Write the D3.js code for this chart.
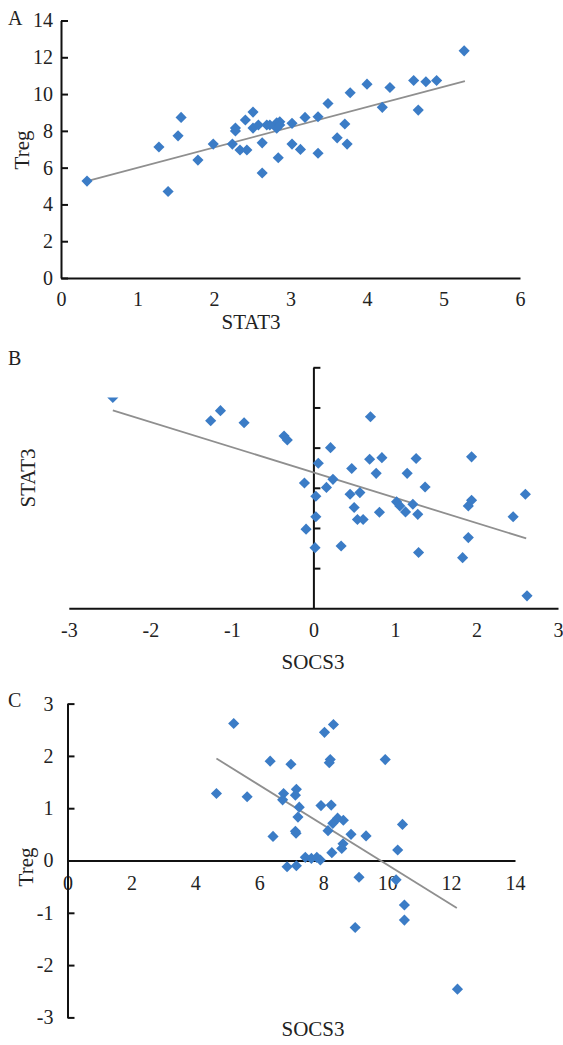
<!DOCTYPE html>
<html>
<head>
<meta charset="utf-8">
<script src="https://cdn.jsdelivr.net/npm/d3@7"></script>
<style>
  body { margin: 0; background: #fff; }
  text { font-family: "Liberation Serif", "Times New Roman", Times, serif; fill: #222; }
  .axis path, .axis line { stroke: #111; stroke-width: 2; }
  .axis text { font-size: 20px; font-family: "Liberation Serif", "Times New Roman", Times, serif; fill: #222; }
</style>
</head>
<body>
<div id="chart"></div>
<script>
// panel A: STAT3 vs Treg
var aSTAT3 = [0.34, 1.40, 1.28, 1.53, 1.57, 1.79, 1.99, 2.24, 2.28, 2.28, 2.41, 2.34, 2.43, 2.51, 2.63,
  2.51, 2.58, 2.69, 2.63, 2.82, 2.84, 2.86, 2.86, 3.02, 3.02, 3.13, 3.19, 3.36, 3.36, 3.49, 3.61, 3.71,
  3.74, 3.78, 4.00, 4.20, 4.30, 4.61, 4.67, 4.77, 4.91, 5.27, 2.82, 2.73];
var aTreg = [5.27, 4.70, 7.12, 7.73, 8.73, 6.41, 7.28, 7.28, 8.15, 7.99, 8.59, 6.96, 6.96, 9.02, 7.35,
  8.15, 8.32, 8.32, 5.71, 8.44, 6.54, 8.49, 8.32, 8.41, 7.28, 6.99, 8.73, 8.77, 6.78, 9.49, 7.62, 8.37,
  7.28, 10.07, 10.54, 9.28, 10.36, 10.74, 9.13, 10.67, 10.74, 12.35, 8.14, 8.32];
var aTrendX = [0.34, 5.28];
var aTrendY = [5.27, 10.71];
var aXTicks = [0, 1, 2, 3, 4, 5, 6];
var aYTicks = [0, 2, 4, 6, 8, 10, 12, 14];

// panel B: SOCS3 vs STAT3
var bSOCS3 = [-2.46, -1.26, -1.14, -0.85, -0.36, -0.32, 0.70, 0.21, 0.06, -0.11, 0.03, 0.16, 0.24, 0.03,
  -0.09, 0.02, 0.34, 0.47, 0.69, 0.84, 0.77, 0.45, 0.57, 0.50, 0.54, 0.61, 0.81, 1.15, 1.26, 1.37, 1.02,
  1.06, 1.13, 1.22, 1.28, 1.29, 1.94, 1.94, 1.90, 1.90, 1.83, 2.45, 2.60, 2.62];
var bSTAT3 = [5.25, 4.67, 4.92, 4.62, 4.29, 4.19, 4.77, 4.00, 3.61, 3.12, 2.79, 3.01, 3.21, 2.28, 1.97,
  1.51, 1.55, 3.48, 3.71, 3.75, 3.36, 2.84, 2.88, 2.51, 2.21, 2.21, 2.39, 3.36, 3.73, 3.02, 2.65, 2.55,
  2.40, 2.59, 2.34, 1.39, 3.77, 2.69, 2.55, 1.76, 1.26, 2.28, 2.84, 0.31];
var bTrendX = [-2.46, 2.61];
var bTrendY = [4.93, 1.74];
var bXTicks = [-3, -2, -1, 0, 1, 2, 3];
var bYTicks = [1, 2, 3, 4, 5, 6];

// panel C: SOCS3 vs Treg
var cSOCS3 = [5.20, 8.04, 8.32, 6.34, 6.99, 8.22, 8.19, 9.94, 4.66, 5.62, 6.76, 6.73, 7.16, 7.13, 7.25,
  7.21, 7.13, 7.15, 7.93, 8.25, 8.15, 8.30, 8.45, 8.63, 8.87, 9.34, 8.62, 8.58, 8.27, 6.43, 10.48, 10.33,
  7.44, 7.63, 7.80, 7.91, 6.87, 7.16, 9.12, 10.28, 10.54, 10.54, 9.00, 12.20];
var cTreg = [2.62, 2.45, 2.60, 1.90, 1.84, 1.93, 1.87, 1.93, 1.28, 1.22, 1.28, 1.16, 1.36, 1.25, 1.02,
  0.83, 0.56, 0.52, 1.05, 1.06, 0.57, 0.71, 0.81, 0.77, 0.50, 0.47, 0.32, 0.23, 0.15, 0.46, 0.69, 0.20,
  0.06, 0.04, 0.06, 0.01, -0.12, -0.10, -0.32, -0.37, -0.85, -1.14, -1.28, -2.46];
var cTrendX = [4.66, 12.18];
var cTrendY = [1.95, -0.91];
var cXTicks = [0, 2, 4, 6, 8, 10, 12, 14];
var cYTicks = [-3, -2, -1, 0, 1, 2, 3];

var width = 563, height = 1045;
var markColor = "#3b7cc6", trendColor = "#8f8f8f";

var svg = d3.select("#chart").append("svg")
    .attr("width", width)
    .attr("height", height);

// rotated square -> even diamond like the excel marker
var diamond = d3.symbol().type(d3.symbolSquare).size(62);

// plain hyphen for negatives, as in the figure
function tickText(d) { return String(d); }

function drawPoints(g, xs, ys, x, y) {
    g.append("g").selectAll("path")
        .data(xs)
        .enter().append("path")
        .attr("d", diamond)
        .attr("transform", function(d, i) { return "translate(" + x(d) + "," + y(ys[i]) + ") rotate(45)"; })
        .style("fill", markColor);
}

function drawTrend(g, tx, ty, x, y) {
    g.append("line")
        .attr("x1", x(tx[0])).attr("y1", y(ty[0]))
        .attr("x2", x(tx[1])).attr("y2", y(ty[1]))
        .style("stroke", trendColor)
        .style("stroke-width", 1.8);
}

// ---- A ----
var xA = d3.scaleLinear().domain([0, 6]).range([61, 520]);
var yA = d3.scaleLinear().domain([0, 14]).range([278, 20.5]);
var gA = svg.append("g");

gA.append("g").attr("class", "axis")
    .attr("transform", "translate(0," + yA(0) + ")")
    .call(d3.axisBottom(xA).tickValues(aXTicks).tickSize(0).tickPadding(14).tickFormat(tickText));
gA.append("g").attr("class", "axis")
    .attr("transform", "translate(" + xA(0) + ",0)")
    .call(d3.axisLeft(yA).tickValues(aYTicks).tickSizeInner(-7).tickSizeOuter(0).tickPadding(8).tickFormat(tickText));

drawTrend(gA, aTrendX, aTrendY, xA, yA);
drawPoints(gA, aSTAT3, aTreg, xA, yA);

gA.append("text").attr("x", 8).attr("y", 25).style("font-size", "20px").text("A");
gA.append("text").attr("x", 251).attr("y", 329).style("font-size", "21px")
    .style("text-anchor", "middle").text("STAT3");
gA.append("text").attr("transform", "translate(29,150) rotate(-90)").style("font-size", "21px")
    .style("text-anchor", "middle").text("Treg");

// ---- B ----
var xB = d3.scaleLinear().domain([-3, 3]).range([68.8, 558]);
var yB = d3.scaleLinear().domain([0, 6]).range([608.3, 367.3]);
var gB = svg.append("g");

gB.append("clipPath").attr("id", "clipB")
    .append("rect")
    .attr("x", 0).attr("y", yB(5.25))
    .attr("width", width).attr("height", yB(0) - yB(5.25) + 20);

gB.append("g").attr("class", "axis")
    .attr("transform", "translate(0," + yB(0) + ")")
    .call(d3.axisBottom(xB).tickValues(bXTicks).tickSize(0).tickPadding(15).tickFormat(tickText));
gB.append("g").attr("class", "axis")
    .attr("transform", "translate(" + xB(0) + ",0)")
    .call(d3.axisLeft(yB).tickValues(bYTicks).tickSizeInner(-7).tickSizeOuter(0).tickFormat(""));

drawTrend(gB, bTrendX, bTrendY, xB, yB);
var ptsB = gB.append("g").attr("clip-path", "url(#clipB)");
drawPoints(ptsB, bSOCS3, bSTAT3, xB, yB);

gB.append("text").attr("x", 8).attr("y", 365).style("font-size", "20px").text("B");
gB.append("text").attr("x", 313).attr("y", 669).style("font-size", "21px")
    .style("text-anchor", "middle").text("SOCS3");
gB.append("text").attr("transform", "translate(35,478) rotate(-90)").style("font-size", "21px")
    .style("text-anchor", "middle").text("STAT3");

// ---- C ----
var xC = d3.scaleLinear().domain([0, 14]).range([67.5, 515]);
var yC = d3.scaleLinear().domain([-3, 3]).range([1017.4, 703.6]);
var gC = svg.append("g");

gC.append("g").attr("class", "axis")
    .attr("transform", "translate(0," + yC(0) + ")")
    .call(d3.axisBottom(xC).tickValues(cXTicks).tickSize(0).tickPadding(15).tickFormat(tickText));
gC.append("g").attr("class", "axis")
    .attr("transform", "translate(" + xC(0) + ",0)")
    .call(d3.axisLeft(yC).tickValues(cYTicks).tickSizeInner(-7).tickSizeOuter(0).tickPadding(14).tickFormat(tickText));

drawTrend(gC, cTrendX, cTrendY, xC, yC);
drawPoints(gC, cSOCS3, cTreg, xC, yC);

gC.append("text").attr("x", 8).attr("y", 707).style("font-size", "20px").text("C");
gC.append("text").attr("x", 313).attr("y", 1036).style("font-size", "21px")
    .style("text-anchor", "middle").text("SOCS3");
gC.append("text").attr("transform", "translate(33,867) rotate(-90)").style("font-size", "21px")
    .style("text-anchor", "middle").text("Treg");
</script>
</body>
</html>
